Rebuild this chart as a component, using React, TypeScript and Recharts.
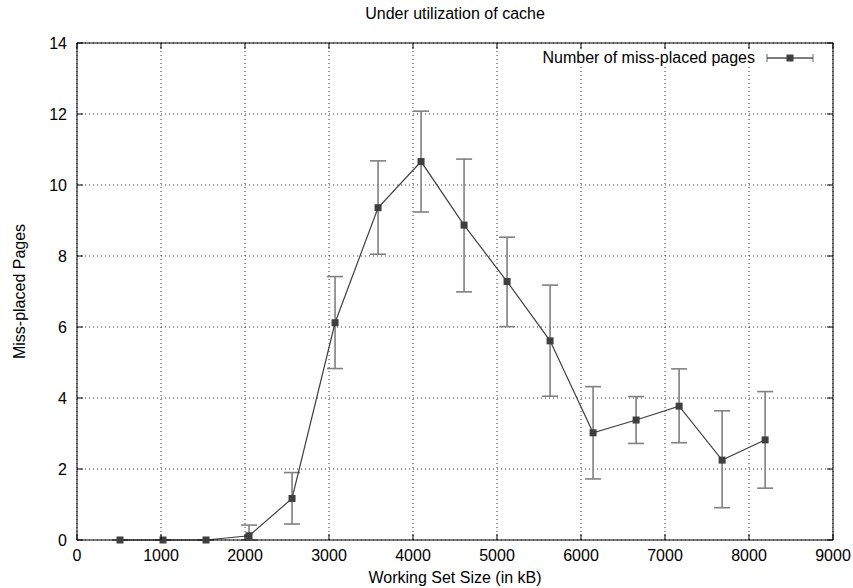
import React from "react";
import {
  LineChart,
  Line,
  XAxis,
  YAxis,
  CartesianGrid,
  ErrorBar,
  ReferenceLine,
  Legend,
} from "recharts";

// working set sizes (kB)
const sizes = [512, 1024, 1536, 2048, 2560, 3072, 3584, 4096, 4608, 5120, 5632, 6144, 6656, 7168, 7680, 8192];
// mean number of miss-placed pages
const missPlaced = [0, 0, 0, 0.12, 1.17, 6.12, 9.36, 10.66, 8.87, 7.28, 5.61, 3.02, 3.38, 3.77, 2.25, 2.82];
// error bar bounds
const lowBound = [0, 0, 0, 0, 0.45, 4.83, 8.05, 9.24, 6.99, 6.01, 4.05, 1.72, 2.72, 2.74, 0.91, 1.46];
const highBound = [0, 0, 0, 0.42, 1.9, 7.42, 10.68, 12.08, 10.73, 8.53, 7.18, 4.32, 4.04, 4.82, 3.64, 4.18];

const xTicks = [0, 1000, 2000, 3000, 4000, 5000, 6000, 7000, 8000, 9000];
const yTicks = [0, 2, 4, 6, 8, 10, 12, 14];

const data = sizes.map((s, i) => ({
  size: s,
  pages: missPlaced[i],
  err: [missPlaced[i] - lowBound[i], highBound[i] - missPlaced[i]],
}));

const FONT = "'Liberation Sans', Arial, Helvetica, sans-serif";
const FS = 16;
const PLOT = { left: 77, right: 833, top: 43, bottom: 540 };
const TICK = 6;

function XTick(props: any) {
  const { x, payload } = props;
  return (
    <g>
      <line x1={x} x2={x} y1={PLOT.bottom} y2={PLOT.bottom - TICK} stroke="#000" />
      <line x1={x} x2={x} y1={PLOT.top} y2={PLOT.top + TICK} stroke="#000" />
      <text x={x} y={PLOT.bottom + 15} dy="0.35em" textAnchor="middle" fill="#000" style={{ fontSize: FS, fontFamily: FONT }}>
        {payload.value}
      </text>
    </g>
  );
}

function YTick(props: any) {
  const { y, payload } = props;
  return (
    <g>
      <line x1={PLOT.left} x2={PLOT.left + TICK} y1={y} y2={y} stroke="#000" />
      <line x1={PLOT.right - TICK} x2={PLOT.right} y1={y} y2={y} stroke="#000" />
      <text x={PLOT.left - 10} y={y} dy="0.35em" textAnchor="end" fill="#000" style={{ fontSize: FS, fontFamily: FONT }}>
        {payload.value}
      </text>
    </g>
  );
}

function SquareDot(props: any) {
  const { cx, cy, index } = props;
  if (cx == null || cy == null) return null;
  return <rect key={index} x={cx - 3.5} y={cy - 3.5} width={7} height={7} fill="#3f3f3f" />;
}

function KeyBox() {
  return (
    <div style={{ display: "flex", alignItems: "center", fontFamily: FONT, fontSize: FS, color: "#000", background: "#fff" }}>
      <span>Number of miss-placed pages</span>
      <svg width={50} height={12} style={{ marginLeft: 10 }}>
        <line x1={2} x2={48} y1={6} y2={6} stroke="#808080" strokeWidth={1.2} />
        <line x1={2} x2={2} y1={2} y2={10} stroke="#808080" strokeWidth={1.2} />
        <line x1={48} x2={48} y1={2} y2={10} stroke="#808080" strokeWidth={1.2} />
        <line x1={2} x2={48} y1={6} y2={6} stroke="#3f3f3f" strokeWidth={1} />
        <rect x={21.5} y={2.5} width={7} height={7} fill="#3f3f3f" />
      </svg>
    </div>
  );
}

export default function App() {
  return (
    <div style={{ position: "absolute", left: 0, top: 0, width: 853, height: 588, background: "#fff" }}>
      <div
        style={{
          position: "absolute",
          top: 5,
          left: PLOT.left,
          width: PLOT.right - PLOT.left,
          textAlign: "center",
          fontFamily: FONT,
          fontSize: FS,
        }}
      >
        Under utilization of cache
      </div>
      <LineChart
        width={853}
        height={588}
        data={data}
        margin={{ top: PLOT.top, right: 853 - PLOT.right, bottom: 18, left: 27 }}
      >
        <CartesianGrid stroke="#000" strokeDasharray="1 3" strokeOpacity={0.8} />
        <XAxis
          dataKey="size"
          type="number"
          domain={[0, 9000]}
          ticks={xTicks}
          tick={<XTick />}
          tickLine={false}
          axisLine={{ stroke: "#000" }}
          height={30}
          label={{ value: "Working Set Size (in kB)", position: "insideBottom", offset: -13, fill: "#000", style: { fontSize: FS, fontFamily: FONT } }}
        />
        <YAxis
          type="number"
          domain={[0, 14]}
          ticks={yTicks}
          tick={<YTick />}
          tickLine={false}
          axisLine={{ stroke: "#000" }}
          width={50}
          label={{ value: "Miss-placed Pages", angle: -90, position: "insideLeft", offset: -8, fill: "#000", style: { textAnchor: "middle", fontSize: FS, fontFamily: FONT } }}
        />
        <ReferenceLine y={14} stroke="#000" />
        <ReferenceLine x={9000} stroke="#000" />
        <Legend
          layout="horizontal"
          verticalAlign="middle"
          align="center"
          wrapperStyle={{ top: 49, right: 38, width: "auto" }}
          content={() => <KeyBox />}
        />
        <Line
          dataKey="pages"
          stroke="#3f3f3f"
          strokeWidth={1.2}
          dot={<SquareDot />}
          activeDot={false}
          isAnimationActive={false}
        >
          <ErrorBar dataKey="err" width={8} stroke="#808080" strokeWidth={1.6} direction="y" />
        </Line>
      </LineChart>
    </div>
  );
}
